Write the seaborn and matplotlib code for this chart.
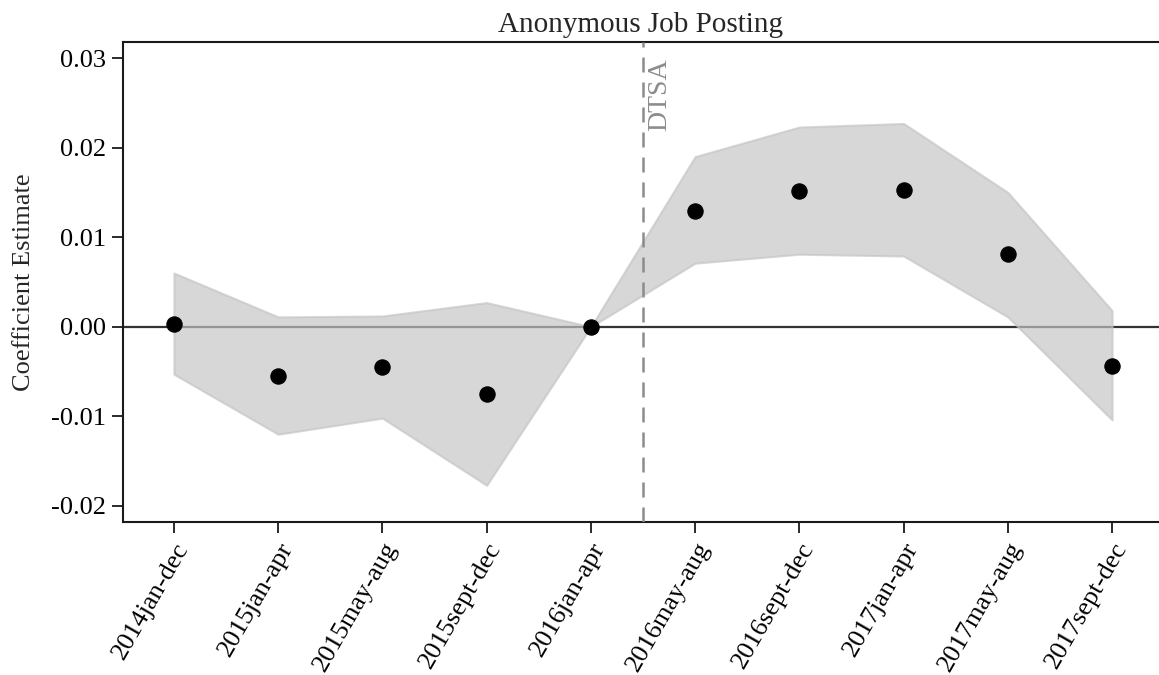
import numpy as np
import pandas as pd
import seaborn as sns
import matplotlib.pyplot as plt

# Data
periods = ["2014jan-dec", "2015jan-apr", "2015may-aug", "2015sept-dec", "2016jan-apr",
           "2016may-aug", "2016sept-dec", "2017jan-apr", "2017may-aug", "2017sept-dec"]
coef = [0.0003, -0.0055, -0.0045, -0.0075, 0.0, 0.0129, 0.0152, 0.0153, 0.0081, -0.0044]
ci_low = [-0.0053, -0.0120, -0.0102, -0.0177, 0.0, 0.0071, 0.0081, 0.0079, 0.0011, -0.0104]
ci_high = [0.0060, 0.0011, 0.0012, 0.0027, 0.0, 0.0190, 0.0223, 0.0227, 0.0150, 0.0018]
event_pos = 4.5
yticks = [-0.02, -0.01, 0.00, 0.01, 0.02, 0.03]

df = pd.DataFrame({"Period": periods, "Coef": coef, "Low": ci_low, "High": ci_high})
df["x"] = np.arange(len(df))

sns.set_theme(style="ticks")
plt.rcParams["font.family"] = ["Liberation Serif", "DejaVu Serif"]

fig = plt.figure(figsize=(11.59, 6.75), dpi=100)
ax = fig.add_axes([0.106, 0.2267, 0.894, 0.7111])

# zero line, CI band, points
ax.axhline(0, color="#333333", lw=1.6, zorder=1)
ax.fill_between(df["x"], df["Low"], df["High"], facecolor="#c4c4c4", alpha=0.68,
                edgecolor="#c4c4c4", lw=1.5, zorder=2)
sns.scatterplot(data=df, x="x", y="Coef", ax=ax, color="black", s=120,
                edgecolor="black", zorder=4)

# DTSA marker
ax.axvline(event_pos, color="#8c8c8c", lw=1.8, ls=(0, (6, 4)), zorder=3)
ax.text(event_pos + 0.04, 0.0300, "DTSA", rotation=90, color="#8c8c8c",
        fontsize=20, ha="left", va="top")

ax.set_xlim(-0.49, 9.45)
ax.set_ylim(-0.0218, 0.0318)
ax.set_xticks(df["x"])
ax.set_xticklabels(periods, rotation=60, ha="right", rotation_mode="anchor", fontsize=19)
ax.set_yticks(yticks)
ax.set_yticklabels([f"{v:.2f}" for v in yticks], fontsize=19)
ax.set_xlabel("")
ax.set_ylabel("Coefficient Estimate", fontsize=19, labelpad=12)
ax.set_title("Anonymous Job Posting", fontsize=21, pad=7)

for s in ["left", "bottom", "top"]:
    ax.spines[s].set_color("#1a1a1a")
    ax.spines[s].set_linewidth(1.5)
ax.spines["right"].set_visible(False)
ax.tick_params(axis="both", length=8, width=1.3, color="#1a1a1a", colors="black")
ax.tick_params(axis="x", pad=4)
ax.tick_params(axis="y", pad=4)

plt.savefig("out.png", dpi=100)
